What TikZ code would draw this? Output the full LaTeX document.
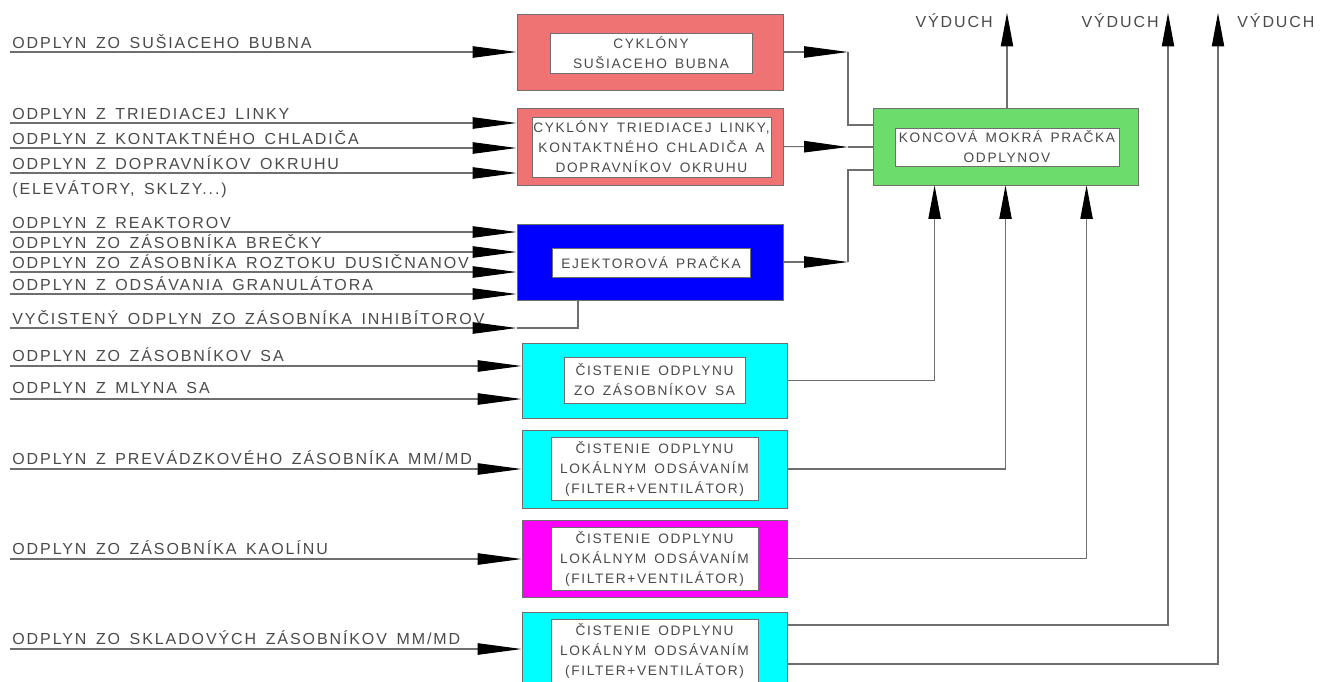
\documentclass[tikz,border=0pt]{standalone}
\usepackage{fontspec}
\setmainfont{Liberation Sans}[LetterSpace=12,WordSpace=1.5]
\usetikzlibrary{arrows.meta}
\definecolor{cykRed}{HTML}{F07373}
\definecolor{pracGreen}{HTML}{6CDC6C}
\definecolor{ejekBlue}{HTML}{0000FF}
\definecolor{cistCyan}{HTML}{00FFFF}
\definecolor{cistMagenta}{HTML}{FF00FF}
\definecolor{lineGray}{HTML}{6E6E6E}
\definecolor{textGray}{HTML}{4A4A4A}

\tikzset{
  box/.style={draw=lineGray, line width=0.5pt, inner sep=0pt},
  inbox/.style={draw=lineGray, fill=white, line width=0.5pt, inner sep=0pt,
    align=center, text=textGray, font=\fontsize{7.8}{11.4}\selectfont},
  lbl/.style={anchor=base west, inner sep=0pt, text=textGray,
    font=\fontsize{9.1}{10}\selectfont},
  flow/.style={draw=lineGray, line width=0.6pt},
  upto/.style={-{Triangle[length=19pt, width=7pt, color=black]}}
}

\begin{document}
\begin{tikzpicture}[x=0.02cm, y=-0.02cm,
    > = {Triangle[length=25pt, width=6.5pt, color=black]}]
    \useasboundingbox (0,0) rectangle (1321,681);

    % boxes %

    % cyklony
    \node [box, fill=cykRed, minimum width=5.32cm, minimum height=1.52cm] (cyk1) at (650,52) {};
    \node [inbox, minimum width=4.04cm, minimum height=0.80cm] (cyk1t) at (651,53)
          {CYKLÓNY\\SUŠIACEHO BUBNA};
    \node [box, fill=cykRed, minimum width=5.32cm, minimum height=1.54cm] (cyk2) at (650,146.5) {};
    \node [inbox, minimum width=4.78cm, minimum height=1.20cm] (cyk2t) at (651.5,147)
          {CYKLÓNY TRIEDIACEJ LINKY,\\KONTAKTNÉHO CHLADIČA A\\DOPRAVNÍKOV OKRUHU};

    % ejektor
    \node [box, fill=ejekBlue, minimum width=5.32cm, minimum height=1.52cm] (ejek) at (650,262) {};
    \node [inbox, minimum width=3.96cm, minimum height=0.58cm] (ejekt) at (651,262.5)
          {EJEKTOROVÁ PRAČKA};

    % cistenie
    \node [box, fill=cistCyan, minimum width=5.30cm, minimum height=1.50cm] (cist1) at (654.5,380.5) {};
    \node [inbox, minimum width=3.62cm, minimum height=0.92cm] (cist1t) at (654.5,380)
          {ČISTENIE ODPLYNU\\ZO ZÁSOBNÍKOV SA};
    \node [box, fill=cistCyan, minimum width=5.30cm, minimum height=1.56cm] (cist2) at (654.5,469) {};
    \node [inbox, minimum width=4.14cm, minimum height=1.26cm] (cist2t) at (654.5,469)
          {ČISTENIE ODPLYNU\\LOKÁLNYM ODSÁVANÍM\\(FILTER+VENTILÁTOR)};
    \node [box, fill=cistMagenta, minimum width=5.30cm, minimum height=1.54cm] (cist3) at (654.5,558.5) {};
    \node [inbox, minimum width=4.14cm, minimum height=1.26cm] (cist3t) at (654.5,558.5)
          {ČISTENIE ODPLYNU\\LOKÁLNYM ODSÁVANÍM\\(FILTER+VENTILÁTOR)};
    \node [box, fill=cistCyan, minimum width=5.30cm, minimum height=1.56cm] (cist4) at (654.5,651) {};
    \node [inbox, minimum width=4.14cm, minimum height=1.26cm] (cist4t) at (654.5,651)
          {ČISTENIE ODPLYNU\\LOKÁLNYM ODSÁVANÍM\\(FILTER+VENTILÁTOR)};

    % koncova pracka
    \node [box, fill=pracGreen, minimum width=5.30cm, minimum height=1.54cm] (prac) at (1005.5,146.5) {};
    \node [inbox, minimum width=4.48cm, minimum height=0.76cm] (pract) at (1007,147)
          {KONCOVÁ MOKRÁ PRAČKA\\ODPLYNOV};


    % inputs %

    \coordinate (s1) at (10,52);
    \coordinate (s2) at (10,123);
    \coordinate (s3) at (10,148);
    \coordinate (s4) at (10,173);
    \coordinate (s5) at (10,232);
    \coordinate (s6) at (10,252);
    \coordinate (s7) at (10,272);
    \coordinate (s8) at (10,294);
    \coordinate (s9) at (10,328);
    \coordinate (s10) at (10,366);
    \coordinate (s11) at (10,399);
    \coordinate (s12) at (10,469);
    \coordinate (s13) at (10,559);
    \coordinate (s14) at (10,649);

    \node [lbl] (l1) at (12,48) {ODPLYN ZO SUŠIACEHO BUBNA};
    \node [lbl] (l2) at (12,119) {ODPLYN Z TRIEDIACEJ LINKY};
    \node [lbl] (l3) at (12,144) {ODPLYN Z KONTAKTNÉHO CHLADIČA};
    \node [lbl] (l4) at (12,169) {ODPLYN Z DOPRAVNÍKOV OKRUHU};
    \node [lbl] (l4b) at (12,194) {(ELEVÁTORY, SKLZY...)};
    \node [lbl] (l5) at (12,228) {ODPLYN Z REAKTOROV};
    \node [lbl] (l6) at (12,248) {ODPLYN ZO ZÁSOBNÍKA BREČKY};
    \node [lbl] (l7) at (12,268) {ODPLYN ZO ZÁSOBNÍKA ROZTOKU DUSIČNANOV};
    \node [lbl] (l8) at (12,290) {ODPLYN Z ODSÁVANIA GRANULÁTORA};
    \node [lbl] (l9) at (12,324) {VYČISTENÝ ODPLYN ZO ZÁSOBNÍKA INHIBÍTOROV};
    \node [lbl] (l10) at (12,361) {ODPLYN ZO ZÁSOBNÍKOV SA};
    \node [lbl] (l11) at (12,393) {ODPLYN Z MLYNA SA};
    \node [lbl] (l12) at (12,464) {ODPLYN Z PREVÁDZKOVÉHO ZÁSOBNÍKA MM/MD};
    \node [lbl] (l13) at (12,554) {ODPLYN ZO ZÁSOBNÍKA KAOLÍNU};
    \node [lbl] (l14) at (12,644) {ODPLYN ZO SKLADOVÝCH ZÁSOBNÍKOV MM/MD};

    \draw [flow, ->] (s1) -- (s1 -| cyk1.west);
    \draw [flow, ->] (s2) -- (s2 -| cyk2.west);
    \draw [flow, ->] (s3) -- (s3 -| cyk2.west);
    \draw [flow, ->] (s4) -- (s4 -| cyk2.west);
    \draw [flow, ->] (s5) -- (s5 -| ejek.west);
    \draw [flow, ->] (s6) -- (s6 -| ejek.west);
    \draw [flow, ->] (s7) -- (s7 -| ejek.west);
    \draw [flow, ->] (s8) -- (s8 -| ejek.west);
    \draw [flow, ->] (s9) -- (s9 -| ejek.west);
    \draw [flow] (s9 -| ejek.west) -| ([xshift=-1.44cm]ejek.south);
    \draw [flow, ->] (s10) -- (s10 -| cist1.west);
    \draw [flow, ->] (s11) -- (s11 -| cist1.west);
    \draw [flow, ->] (s12) -- (s12 -| cist2.west);
    \draw [flow, ->] (s13) -- (s13 -| cist3.west);
    \draw [flow, ->] (s14) -- (s14 -| cist4.west);


    % outputs %

    \coordinate (j1) at (848,52);
    \coordinate (j2) at (848,147);
    \coordinate (j3) at (848,262);
    \coordinate (v1) at (1007,13);
    \coordinate (v2) at (1168,13);
    \coordinate (v3) at (1218,13);

    \draw [flow, ->] (cyk1.east) -- (j1);
    \draw [flow] (j1) |- ([yshift=0.43cm]prac.west);
    \draw [flow, ->] (cyk2.east) -- (j2);
    \draw [flow] (j2) -- (prac.west |- j2);
    \draw [flow, ->] (ejek.east) -- (j3);
    \draw [flow] (j3) |- ([yshift=-0.47cm]prac.west);

    \draw [flow, upto] (cist1.east) -| ([xshift=1.24cm]prac.south west);
    \draw [flow, upto] (cist2.east) -| (prac.south);
    \draw [flow, upto] (cist3.east) -| ([xshift=4.28cm]prac.south west);

    % vyduch
    \draw [flow, upto] (prac.north -| v1) -- (v1);
    \draw [flow, upto] ([yshift=0.52cm]cist4.east) -| (v2);
    \draw [flow, upto] ([yshift=-0.26cm]cist4.east) -| (v3);

    \node [lbl, anchor=base east] (vy1) at (993,27) {VÝDUCH};
    \node [lbl, anchor=base east] (vy2) at (1159,27) {VÝDUCH};
    \node [lbl] (vy3) at (1237,27) {VÝDUCH};

\end{tikzpicture}
\end{document}
